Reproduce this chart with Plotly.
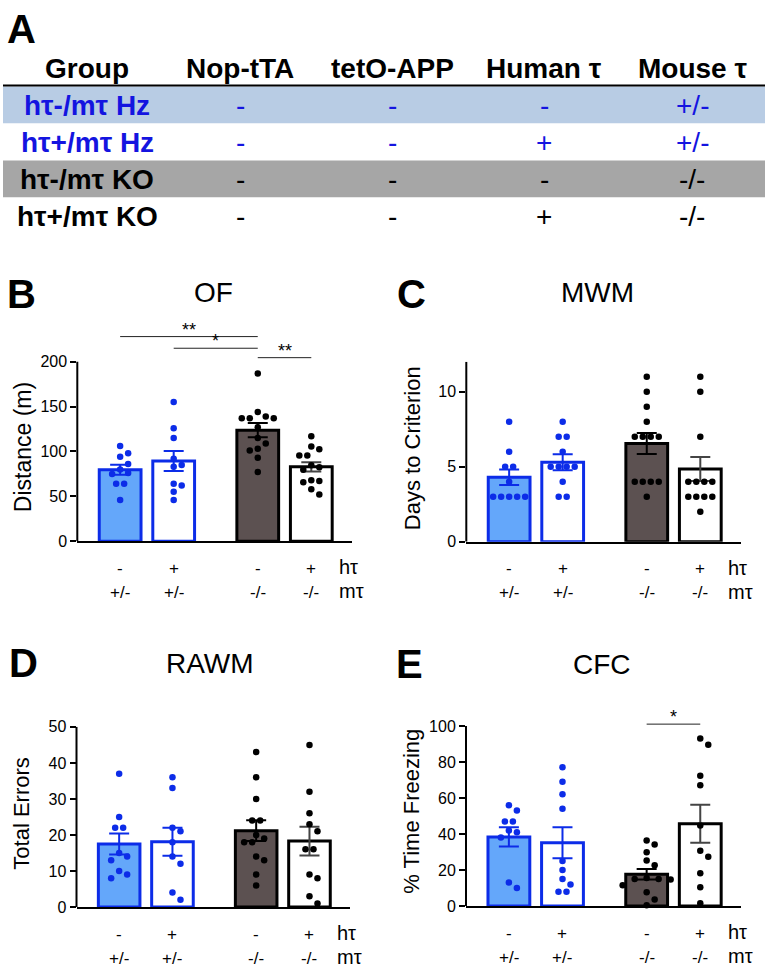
import plotly.graph_objects as go

W, H = 768, 973

# ---------------- Panel A: genotype table ----------------
table_cols = ["Group", "Nop-tTA", "tetO-APP", "Human τ", "Mouse τ"]
table_groups = ["hτ-/mτ Hz", "hτ+/mτ Hz", "hτ-/mτ KO", "hτ+/mτ KO"]
table_nop = ["-", "-", "-", "-"]
table_teto = ["-", "-", "-", "-"]
table_human = ["-", "+", "-", "+"]
table_mouse = ["+/-", "+/-", "-/-", "-/-"]
row_fills = ["#B8CCE4", "white", "#A6A6A6", "white"]
row_text = ["#1414E0", "#1414E0", "black", "black"]

# ---------------- Panels B-E: behaviour ----------------
group_x = [0, 1, 2.57, 3.57]
ht_row = ["-", "+", "-", "+"]
mt_row = ["+/-", "+/-", "-/-", "-/-"]

# OF - distance (m)
of_mean = [79.6, 89.4, 123.7, 82.9]
of_sem = [5.6, 11.2, 8.0, 5.1]
of_hz_minus = [106, 98, 94, 86, 80, 76, 75, 64, 64, 46]
of_hz_plus = [155, 126, 115, 92, 85, 83, 64, 62, 55, 46]
of_ko_minus = [187, 144, 139, 137, 137, 137, 127, 115, 109, 103, 101, 93, 77]
of_ko_plus = [117, 105.5, 102.5, 95.5, 95.5, 84.7, 82.5, 79.6, 68, 67.2, 65.8, 57.8, 52]
of_sig_from = [0, 1, 2]
of_sig_to = [2, 2, 3]
of_sig_y = [228, 215, 204.5]
of_sig_txt = ["**", "*", "**"]

# MWM - days to criterion
mwm_mean = [4.3, 5.3, 6.55, 4.85]
mwm_sem = [0.52, 0.53, 0.7, 0.8]
mwm_hz_minus = [8, 6, 5, 5, 4, 3, 3, 3, 3, 3]
mwm_hz_plus = [8, 7, 7, 6, 5, 5, 5, 5, 4, 3, 3]
mwm_ko_minus = [11, 10, 9, 8, 7, 7, 7, 7, 4, 4, 4, 4, 3]
mwm_ko_plus = [11, 10, 7, 4, 4, 4, 4, 3, 3, 3, 3, 2]

# RAWM - total errors
rawm_mean = [17.5, 18.1, 21.2, 18.3]
rawm_sem = [2.9, 3.9, 2.9, 4.0]
rawm_hz_minus = [37, 25, 22, 22, 15, 14, 13, 10, 9, 8]
rawm_hz_plus = [36, 33, 22, 21, 18, 14, 12, 4, 2]
rawm_ko_minus = [43, 36, 30, 24, 24, 20, 19, 18, 18, 14, 13, 9, 6]
rawm_ko_plus = [45, 32, 26, 23, 21, 16, 16, 9, 8, 3, 1]

# CFC - % time freezing
cfc_mean = [38.4, 35.1, 17.6, 45.7]
cfc_sem = [5.4, 8.6, 2.9, 10.5]
cfc_hz_minus = [56, 53, 47, 47, 42, 41, 38, 13, 10]
cfc_hz_plus = [77, 69, 62, 54, 25, 20, 15, 12, 8, 8]
cfc_ko_minus = [36.4, 34.2, 29.8, 25.3, 22.7, 15.5, 15, 15, 14.7, 11.5, 7.6, 3.6, 0.4]
cfc_ko_plus = [93, 89.5, 72.4, 67.1, 44.7, 30.7, 27.3, 18.2, 10.4, 1.5]
cfc_sig_from = [2]
cfc_sig_to = [3]
cfc_sig_y = [101]
cfc_sig_txt = ["*"]

BLUE = "#0C2CE8"
bar_fill = ["#64A7FA", "white", "#5C5151", "white"]
bar_line = [BLUE, BLUE, "black", "black"]
err_col = [BLUE, BLUE, "black", "#444444"]
dot_col = [BLUE, BLUE, "black", "black"]
FONT = "Liberation Sans, Arial, sans-serif"


def px(x):
    return x / W


def py(y):
    return 1 - y / H


def swarm(vals, x_ppu, y_ppu, d=8.0):
    # simple beeswarm: nearest free horizontal slot, symmetric for ties
    placed, offs = [], []
    for v in vals:
        yp = v * y_ppu
        n_same = sum(1 for w in vals if w == v)
        if n_same % 2 == 0:
            cands = []
            for k in range(20):
                cands += [(k + 0.5) * d, -(k + 0.5) * d]
        else:
            cands = [0.0]
            for k in range(1, 20):
                cands += [k * d, -k * d]
        for c in cands:
            if all((c - a) ** 2 + (yp - b) ** 2 >= (0.95 * d) ** 2 for a, b in placed):
                break
        placed.append((c, yp))
        offs.append(c / x_ppu)
    return offs


def label(x, y, text, size, color="black", **kw):
    # text placed in page pixels, centred on (x, y)
    d = dict(x=px(x), y=py(y), xref="paper", yref="paper", showarrow=False,
             xanchor="center", yanchor="middle", text=text,
             font=dict(size=size, color=color, family=FONT))
    d.update(kw)
    return d


XR = [-0.8, 4.33]

panels = [
    dict(title="OF", letter="B", ytitle="Distance (m)", mean=of_mean, sem=of_sem,
         pts=[of_hz_minus, of_hz_plus, of_ko_minus, of_ko_plus],
         sig=(of_sig_from, of_sig_to, of_sig_y, of_sig_txt),
         xl=77.3, xr=352, y0=542.7, ppu=0.9135, axis_top=200, top=232, dtick=50,
         title_xy=(213, 290), letter_xy=(21, 291), ytitle_xy=(23, 447), ysize=23),
    dict(title="MWM", letter="C", ytitle="Days to Criterion", mean=mwm_mean, sem=mwm_sem,
         pts=[mwm_hz_minus, mwm_hz_plus, mwm_ko_minus, mwm_ko_plus], sig=None,
         xl=466.3, xr=741, y0=543.3, ppu=15.27, axis_top=12, top=12, dtick=5,
         title_xy=(597, 290), letter_xy=(411, 291), ytitle_xy=(412, 448), ysize=22),
    dict(title="RAWM", letter="D", ytitle="Total Errors", mean=rawm_mean, sem=rawm_sem,
         pts=[rawm_hz_minus, rawm_hz_plus, rawm_ko_minus, rawm_ko_plus], sig=None,
         xl=76.5, xr=350, y0=915, ppu=3.667, axis_top=50, top=50, dtick=10,
         title_xy=(210, 667), letter_xy=(23, 667), ytitle_xy=(22, 820), ysize=22),
    dict(title="CFC", letter="E", ytitle="% Time Freezing", mean=cfc_mean, sem=cfc_sem,
         pts=[cfc_hz_minus, cfc_hz_plus, cfc_ko_minus, cfc_ko_plus],
         sig=(cfc_sig_from, cfc_sig_to, cfc_sig_y, cfc_sig_txt),
         xl=466, xr=741, y0=914, ppu=1.833, axis_top=100, top=106, dtick=20,
         title_xy=(602, 668), letter_xy=(409, 668), ytitle_xy=(412, 818), ysize=22),
]

fig = go.Figure()
shapes, annotations = [], []
layout = {}

# ---- table
shapes.append(dict(type="line", xref="paper", yref="paper", x0=px(3), x1=px(765),
                   y0=py(79), y1=py(79), line=dict(color="black", width=2)))
col_x = [87, 240, 392, 544, 692]
for j, name in enumerate(table_cols):
    annotations.append(label(col_x[j], 62, "<b>%s</b>" % name, 28))
for i, g in enumerate(table_groups):
    top = 80 + 37.6 * i
    shapes.append(dict(type="rect", xref="paper", yref="paper", x0=px(3), x1=px(765),
                       y0=py(top + 37.6), y1=py(top), fillcolor=row_fills[i], line=dict(width=0),
                       layer="below"))
    cells = [g, table_nop[i], table_teto[i], table_human[i], table_mouse[i]]
    for j, t in enumerate(cells):
        annotations.append(label(col_x[j], top + 19, "<b>%s</b>" % t if j == 0 else t, 28,
                                 row_text[i]))
annotations.append(label(21, 21, "<b>A</b>", 40))

# ---- bar panels
for k, p in enumerate(panels):
    suf = "" if k == 0 else str(k + 1)
    xa, ya = "x" + suf, "y" + suf
    x_ppu = (p["xr"] - p["xl"]) / (XR[1] - XR[0])
    layout["xaxis" + suf] = dict(domain=[px(p["xl"]), px(p["xr"])], range=XR, anchor=ya,
                                 showline=True, linewidth=2, linecolor="black", ticks="",
                                 showticklabels=False, showgrid=False, zeroline=False)
    layout["yaxis" + suf] = dict(domain=[py(p["y0"]), py(p["y0"] - p["top"] * p["ppu"])],
                                 range=[0, p["top"]], anchor=xa, showline=False, showgrid=False,
                                 zeroline=False, ticks="outside", ticklen=6, tickwidth=2,
                                 tickcolor="black",
                                 tickvals=list(range(0, p["axis_top"] + 1, p["dtick"])),
                                 tickfont=dict(size=16, color="black", family=FONT))
    shapes.append(dict(type="line", xref=xa + " domain", yref=ya, x0=0, x1=0, y0=0,
                       y1=p["axis_top"], line=dict(color="black", width=2)))
    for g in range(4):
        fig.add_trace(go.Bar(x=[group_x[g]], y=[p["mean"][g]], width=0.78,
                             marker=dict(color=bar_fill[g], line=dict(color=bar_line[g], width=3)),
                             error_y=dict(type="data", array=[p["sem"][g]], color=err_col[g],
                                          thickness=2, width=10),
                             xaxis=xa, yaxis=ya, showlegend=False))
    for g in range(4):
        vals = p["pts"][g]
        offs = swarm(vals, x_ppu, p["ppu"])
        fig.add_trace(go.Scatter(x=[group_x[g] + o for o in offs], y=vals, mode="markers",
                                 marker=dict(size=6.5, color=dot_col[g]), cliponaxis=False,
                                 xaxis=xa, yaxis=ya, showlegend=False))
    # genotype labels under the bars
    for g in range(4):
        annotations.append(dict(x=group_x[g], y=0, xref=xa, yref=ya, yshift=-27, showarrow=False,
                                xanchor="center", yanchor="middle", text=ht_row[g],
                                font=dict(size=17, color="black", family=FONT)))
        annotations.append(dict(x=group_x[g], y=0, xref=xa, yref=ya, yshift=-51, showarrow=False,
                                xanchor="center", yanchor="middle", text=mt_row[g],
                                font=dict(size=17, color="black", family=FONT)))
    annotations.append(dict(x=4.05, y=0, xref=xa, yref=ya, yshift=-26, xanchor="left",
                            yanchor="middle", showarrow=False, text="hτ",
                            font=dict(size=20, color="black", family=FONT)))
    annotations.append(dict(x=4.05, y=0, xref=xa, yref=ya, yshift=-50, xanchor="left",
                            yanchor="middle", showarrow=False, text="mτ",
                            font=dict(size=20, color="black", family=FONT)))
    # significance bars
    if p["sig"]:
        s_from, s_to, s_y, s_txt = p["sig"]
        for a, b, yv, t in zip(s_from, s_to, s_y, s_txt):
            shapes.append(dict(type="line", xref=xa, yref=ya, x0=group_x[a], x1=group_x[b],
                               y0=yv, y1=yv, line=dict(color="#222222", width=1)))
            annotations.append(dict(x=(group_x[a] + group_x[b]) / 2, y=yv, xref=xa, yref=ya,
                                    xanchor="center", yanchor="bottom", yshift=-5,
                                    showarrow=False, text=t,
                                    font=dict(size=18, color="black", family=FONT)))
    # titles
    annotations.append(label(p["title_xy"][0], p["title_xy"][1], p["title"], 28))
    annotations.append(label(p["letter_xy"][0], p["letter_xy"][1], "<b>%s</b>" % p["letter"], 40))
    annotations.append(label(p["ytitle_xy"][0], p["ytitle_xy"][1], p["ytitle"], p["ysize"],
                             textangle=-90))

fig.update_layout(
    width=W, height=H, autosize=False,
    margin=dict(l=0, r=0, t=0, b=0),
    paper_bgcolor="white", plot_bgcolor="white",
    barmode="overlay", showlegend=False,
    font=dict(family=FONT, color="black"),
    shapes=shapes, annotations=annotations,
    **layout
)

# the page's default body margin would push the 768x973 figure past the window
fig.write_html("out.html", config={"displayModeBar": False},
               post_script="document.body.style.margin='0px';")
